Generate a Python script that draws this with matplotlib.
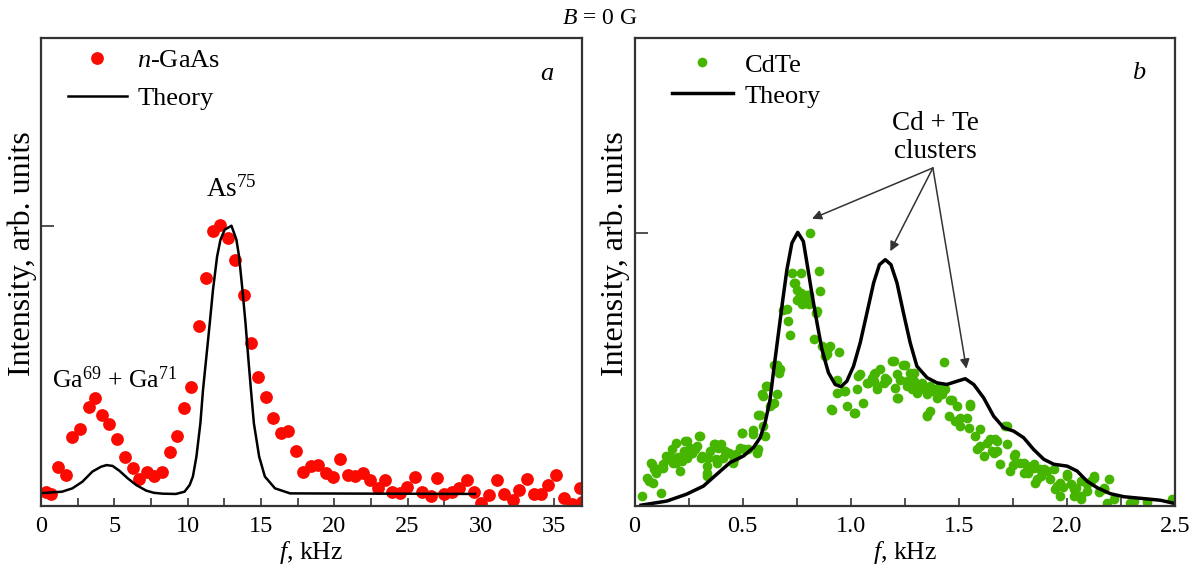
import matplotlib
matplotlib.use('Agg')
import matplotlib.pyplot as plt
import numpy as np

plt.rcParams['font.family'] = ['Liberation Serif', 'DejaVu Serif']
plt.rcParams['mathtext.fontset'] = 'custom'
plt.rcParams['mathtext.rm'] = 'Liberation Serif'
plt.rcParams['mathtext.it'] = 'Liberation Serif:italic'
plt.rcParams['font.size'] = 17

# ---- panel a: n-GaAs ----
gaas_f = [0.32, 0.66, 1.18, 1.69, 2.1, 2.65, 3.24, 3.7, 4.16, 4.66, 5.18, 5.75, 6.25,
          6.71, 7.21, 7.74, 8.27, 8.77, 9.27, 9.73, 10.25, 10.77, 11.28, 11.73, 12.24,
          12.76, 13.22, 13.84, 14.29, 14.81, 15.34, 15.84, 16.35, 16.87, 17.36, 17.86,
          18.4, 18.92, 19.45, 19.95, 20.41, 20.91, 21.44, 21.97, 22.47, 22.97, 23.49,
          23.95, 24.52, 24.98, 25.48, 26.01, 26.58, 27.03, 27.49, 28.06, 28.51, 29.04,
          29.54, 30.0, 30.57, 31.1, 31.6, 32.17, 32.62, 33.15, 33.65, 34.11, 34.57,
          35.14, 35.66, 36.21, 36.73, 36.9]
gaas_i = [0.051, 0.043, 0.14, 0.111, 0.246, 0.275, 0.354, 0.386, 0.325, 0.293, 0.239,
          0.176, 0.136, 0.096, 0.123, 0.107, 0.123, 0.194, 0.25, 0.35, 0.425, 0.643,
          0.814, 0.98, 1.004, 0.958, 0.879, 0.754, 0.582, 0.461, 0.389, 0.314, 0.261,
          0.268, 0.196, 0.123, 0.143, 0.146, 0.118, 0.105, 0.168, 0.111, 0.107, 0.118,
          0.093, 0.064, 0.093, 0.051, 0.045, 0.069, 0.105, 0.051, 0.036, 0.099, 0.043,
          0.051, 0.063, 0.093, 0.051, 0.011, 0.039, 0.093, 0.043, 0.021, 0.057, 0.095,
          0.043, 0.043, 0.075, 0.111, 0.028, 0.007, 0.063, 0.015]

theory_a_f = [0.0, 1.43, 2.14, 2.83, 3.51, 4.09, 4.47, 4.88, 5.34, 5.91, 6.49, 7.17,
              7.7, 8.3, 9.2, 9.79, 10.14, 10.36, 10.6, 10.87, 11.05, 11.28, 11.51, 11.73,
              12.01, 12.24, 12.53, 12.99, 13.33, 13.51, 13.74, 13.95, 14.13, 14.32,
              14.52, 14.88, 15.27, 15.96, 16.99, 29.6]
theory_a_i = [0.046, 0.051, 0.063, 0.087, 0.123, 0.14, 0.146, 0.143, 0.126, 0.099,
              0.075, 0.055, 0.047, 0.044, 0.043, 0.051, 0.075, 0.105, 0.176, 0.295, 0.414,
              0.533, 0.652, 0.771, 0.89, 0.95, 0.986, 1.0, 0.95, 0.89, 0.771, 0.652,
              0.533, 0.414, 0.295, 0.176, 0.105, 0.063, 0.045, 0.043]

# ---- panel b: CdTe ----
cdte_f = [0.036, 0.121, 0.067, 0.087, 0.056, 0.09, 0.075, 0.08, 0.11, 0.133, 0.144,
          0.164, 0.149, 0.18, 0.175, 0.191, 0.211, 0.191, 0.221, 0.234, 0.244, 0.257,
          0.242, 0.265, 0.268, 0.288, 0.299, 0.303, 0.306, 0.311, 0.334, 0.337, 0.337,
          0.342, 0.368, 0.373, 0.376, 0.38, 0.388, 0.399, 0.411, 0.434, 0.437, 0.457,
          0.461, 0.488, 0.496, 0.499, 0.507,
          0.1, 0.13, 0.2, 0.23, 0.28, 0.35, 0.42, 0.47,
          0.527, 0.546, 0.55, 0.566, 0.569, 0.573, 0.581, 0.589, 0.592, 0.596, 0.604,
          0.609, 0.612, 0.627, 0.635, 0.643, 0.646, 0.658, 0.658, 0.666, 0.674, 0.689,
          0.705, 0.712, 0.72, 0.728, 0.738, 0.743, 0.751, 0.759, 0.766, 0.771, 0.774,
          0.789, 0.797, 0.805, 0.805, 0.81, 0.831, 0.841, 0.843, 0.851, 0.859, 0.867,
          0.882, 0.89, 0.897, 0.905, 0.908, 0.913, 0.936, 0.936, 0.948, 0.967, 0.975,
          0.982, 0.77, 0.785, 0.75,
          1.013, 1.021, 1.029, 1.036, 1.044, 1.059, 1.075, 1.082, 1.106, 1.106, 1.113,
          1.121, 1.121, 1.137, 1.152, 1.168, 1.19, 1.198, 1.206, 1.214, 1.214, 1.221,
          1.244, 1.252, 1.26, 1.26, 1.275, 1.283, 1.291, 1.291, 1.306, 1.33, 1.352,
          1.352, 1.352, 1.368, 1.368, 1.399, 1.406, 1.43, 1.437, 1.453, 1.461, 1.468,
          1.484, 1.492, 1.507, 1.507,
          1.1, 1.16, 1.23, 1.3, 1.34, 1.42, 1.38,
          1.538, 1.545, 1.553, 1.553, 1.576, 1.584, 1.6, 1.6, 1.615, 1.63, 1.646, 1.654,
          1.661, 1.669, 1.677, 1.677, 1.692, 1.715, 1.723, 1.723, 1.738, 1.754, 1.762,
          1.785, 1.8, 1.8, 1.816, 1.846, 1.846, 1.854, 1.862, 1.877, 1.893, 1.908,
          1.939, 1.947, 1.955, 1.97, 1.97, 2.001, 2.001, 2.031, 2.031, 2.04, 2.063,
          2.063, 2.063, 2.093, 2.093, 2.124, 2.124, 2.17, 2.17, 2.186, 2.193, 2.217,
          2.294, 2.31, 2.371, 2.487,
          1.75, 1.82, 1.88, 1.92, 1.98, 2.02, 2.11, 2.15]
cdte_i = [0.037, 0.049, 0.091, 0.086, 0.104, 0.134, 0.159, 0.153, 0.134, 0.153, 0.183,
          0.183, 0.171, 0.159, 0.207, 0.232, 0.128, 0.159, 0.165, 0.238, 0.238, 0.214,
          0.177, 0.195, 0.195, 0.219, 0.256, 0.256, 0.177, 0.183, 0.122, 0.146, 0.11,
          0.177, 0.226, 0.226, 0.171, 0.159, 0.214, 0.226, 0.177, 0.195, 0.195, 0.159,
          0.171, 0.214, 0.268, 0.268, 0.207,
          0.12, 0.14, 0.18, 0.2, 0.21, 0.2, 0.2, 0.19,
          0.207, 0.262, 0.28, 0.195, 0.207, 0.335, 0.335, 0.409, 0.293, 0.402, 0.256,
          0.439, 0.439, 0.366, 0.372, 0.378, 0.518, 0.409, 0.518, 0.488, 0.5, 0.719,
          0.722, 0.677, 0.628, 0.854, 0.817, 0.817, 0.756, 0.762, 0.768, 0.854, 0.738,
          0.744, 0.774, 0.774, 0.738, 1.0, 0.61, 0.707, 0.713, 0.86, 0.786, 0.585,
          0.549, 0.555, 0.579, 0.585, 0.354, 0.351, 0.463, 0.415, 0.563, 0.421, 0.421,
          0.366, 0.78, 0.76, 0.79,
          0.341, 0.341, 0.427, 0.475, 0.482, 0.378, 0.451, 0.451, 0.457, 0.482, 0.488,
          0.427, 0.439, 0.5, 0.451, 0.463, 0.53, 0.53, 0.433, 0.396, 0.482, 0.396,
          0.518, 0.518, 0.457, 0.439, 0.488, 0.427, 0.488, 0.457, 0.415, 0.451, 0.409,
          0.335, 0.329, 0.439, 0.347, 0.396, 0.433, 0.527, 0.427, 0.329, 0.39, 0.39,
          0.311, 0.366, 0.323, 0.293,
          0.47, 0.47, 0.46, 0.44, 0.43, 0.41, 0.42,
          0.323, 0.287, 0.372, 0.366, 0.256, 0.207, 0.281, 0.219, 0.183, 0.232, 0.244,
          0.201, 0.195, 0.244, 0.238, 0.201, 0.153, 0.293, 0.226, 0.293, 0.128, 0.183,
          0.189, 0.159, 0.122, 0.159, 0.146, 0.153, 0.14, 0.086, 0.098, 0.134, 0.134,
          0.128, 0.134, 0.061, 0.073, 0.086, 0.037, 0.11, 0.116, 0.061, 0.037, 0.067,
          0.091, 0.037, 0.025, 0.079, 0.055, 0.104, 0.11, 0.061, 0.067, 0.012, 0.098,
          0.025, 0.012, 0.018, 0.015, 0.025,
          0.15, 0.12, 0.11, 0.1, 0.07, 0.08, 0.09, 0.05]

theory_b_f = [0.03, 0.149, 0.24, 0.319, 0.38, 0.442, 0.504, 0.55, 0.581, 0.604, 0.627,
              0.646, 0.666, 0.686, 0.705, 0.728, 0.755, 0.781, 0.8, 0.82, 0.844, 0.867,
              0.897, 0.928, 0.955, 0.982, 1.013, 1.044, 1.075, 1.106, 1.133, 1.16,
              1.186, 1.214, 1.244, 1.275, 1.306, 1.353, 1.399, 1.445, 1.492, 1.53,
              1.569, 1.615, 1.661, 1.707, 1.754, 1.8, 1.846, 1.893, 1.939, 2.001,
              2.047, 2.093, 2.14, 2.201, 2.263, 2.356, 2.433, 2.494]
theory_b_i = [0.003, 0.018, 0.043, 0.073, 0.116, 0.159, 0.183, 0.214, 0.25, 0.305,
              0.39, 0.512, 0.634, 0.756, 0.866, 0.963, 1.002, 0.969, 0.878, 0.78,
              0.671, 0.573, 0.488, 0.445, 0.437, 0.457, 0.512, 0.598, 0.707, 0.817,
              0.884, 0.902, 0.884, 0.817, 0.707, 0.598, 0.512, 0.47, 0.451, 0.445,
              0.457, 0.466, 0.445, 0.396, 0.329, 0.287, 0.274, 0.25, 0.207, 0.171,
              0.153, 0.146, 0.128, 0.091, 0.067, 0.045, 0.034, 0.027, 0.021, 0.01]

red = '#fa0a00'
green = '#45b500'
spine_col = '#333333'

fig = plt.figure(figsize=(11.99, 5.75), dpi=100)
ax1 = fig.add_axes([0.0342, 0.12, 0.4512, 0.814])
ax2 = fig.add_axes([0.5292, 0.12, 0.4508, 0.814])

for ax in (ax1, ax2):
    for s in ax.spines.values():
        s.set_linewidth(1.6)
        s.set_color(spine_col)
    ax.tick_params(axis='x', which='both', direction='in', length=6, width=1.2,
                   color=spine_col, pad=7, labelsize=17.5)
    ax.tick_params(axis='y', direction='in', length=9, width=1.2, color=spine_col,
                   labelleft=False)
    ax.set_yticks([1.0])
    ax.set_ylabel('Intensity, arb. units', fontsize=23, labelpad=3)
    ax.yaxis.label.set_y(0.54)
    ax.set_xlabel('$f$, kHz', fontsize=18.5, labelpad=2)

# panel a
ax1.plot(gaas_f, gaas_i, 'o', color=red, markersize=9.2, markeredgewidth=0,
         label='$n$-GaAs')
ax1.plot(theory_a_f, theory_a_i, '-', color='black', lw=1.8, label='Theory')
ax1.set_xlim(0, 36.9)
ax1.set_ylim(0, 1.67)
ax1.set_xticks(np.arange(0, 36, 5))
ax1.set_xticks(np.arange(2.5, 36, 5), minor=True)
ax1.text(34.5, 1.54, 'a', fontstyle='italic', fontsize=19, ha='center', va='center')
ax1.text(13.0, 1.13, 'As$^{75}$', ha='center', va='center', fontsize=19.5)
ax1.text(5.0, 0.45, 'Ga$^{69}$ + Ga$^{71}$', ha='center', va='center', fontsize=18.5)
ax1.legend(loc='upper left', bbox_to_anchor=(0.03, 1.0), borderaxespad=0,
           frameon=False, fontsize=19, handlelength=2.25, handletextpad=0.38,
           labelspacing=0.55, numpoints=1)

# panel b
ax2.plot(cdte_f, cdte_i, 'o', color=green, markersize=7, markeredgewidth=0,
         label='CdTe')
ax2.plot(theory_b_f, theory_b_i, '-', color='black', lw=2.5, label='Theory')
ax2.set_xlim(0, 2.5)
ax2.set_ylim(0, 1.714)
ax2.set_xticks([0, 0.5, 1.0, 1.5, 2.0, 2.5])
ax2.set_xticklabels(['0', '0.5', '1.0', '1.5', '2.0', '2.5'])
ax2.set_xticks(np.arange(0.25, 2.5, 0.5), minor=True)
ax2.text(2.33, 1.585, 'b', fontstyle='italic', fontsize=19, ha='center', va='center')
ax2.text(1.39, 1.35, 'Cd + Te\nclusters', ha='center', va='center', fontsize=19.5,
         linespacing=1.15)
origin = (1.38, 1.238)
for head in [(0.821, 1.052), (1.183, 0.933), (1.535, 0.503)]:
    ax2.annotate('', xy=head, xytext=origin,
                 arrowprops=dict(arrowstyle='-|>', color='#333333', lw=1.1,
                                 mutation_scale=14, shrinkA=0, shrinkB=0))
ax2.legend(loc='upper left', bbox_to_anchor=(0.05, 0.99), borderaxespad=0,
           frameon=False, fontsize=19, handlelength=2.3, handletextpad=0.45,
           labelspacing=0.28, numpoints=1)

fig.text(0.5, 1 - 18 / 575, '$B$ = 0 G', ha='center', va='center', fontsize=17)

fig.savefig('out.png', dpi=100)
plt.close(fig)
